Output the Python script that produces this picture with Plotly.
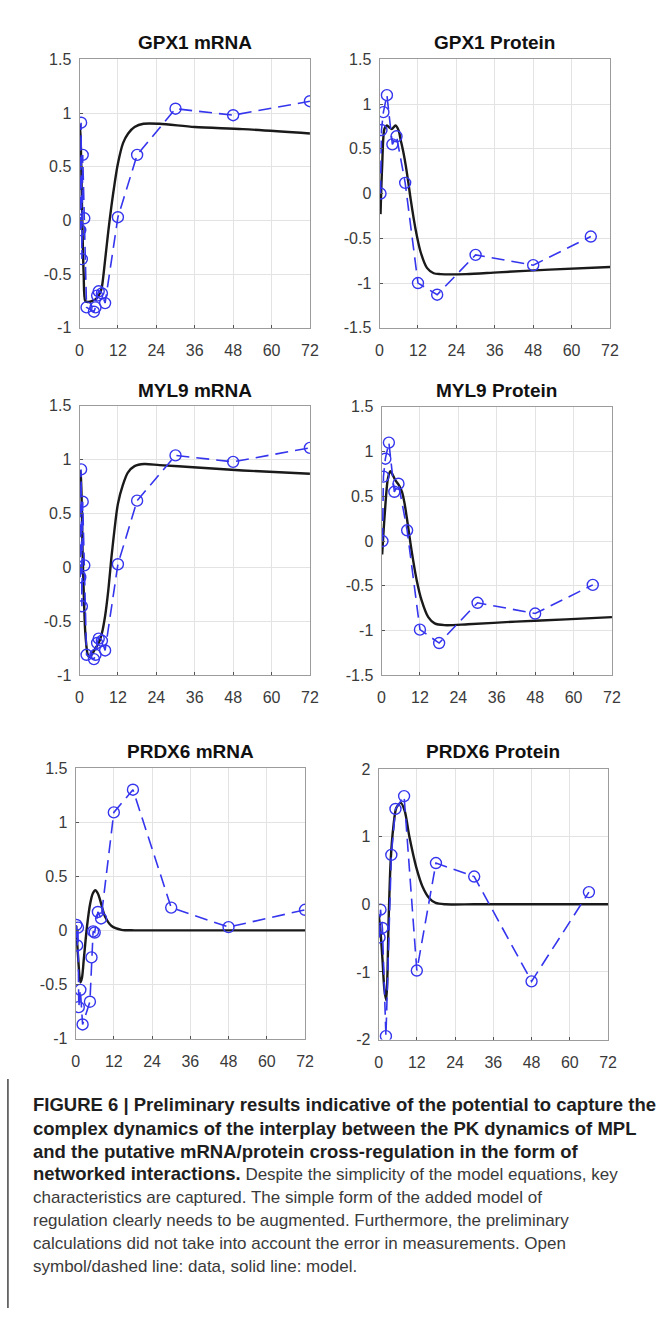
import plotly.graph_objects as go

# ---------------- data ----------------
mrna_t = [0.25, 0.5, 0.75, 1, 1.5, 2.2, 4.5, 5, 5.5, 6, 7, 8, 12, 18, 30, 48, 72]
prot_t = [0.3, 0.6, 1.2, 2.3, 4, 5.3, 8, 12, 18, 30, 48, 66]

gpx1_mrna = [-0.09, 0.91, -0.36, 0.61, 0.02, -0.81, -0.85, -0.81, -0.70, -0.66, -0.68, -0.77, 0.03, 0.61, 1.04, 0.98, 1.11]
myl9_mrna = [-0.09, 0.91, -0.36, 0.61, 0.02, -0.81, -0.85, -0.81, -0.70, -0.66, -0.68, -0.77, 0.03, 0.62, 1.04, 0.98, 1.11]
prdx6_mrna = [0.05, -0.14, 0.025, -0.71, -0.55, -0.87, -0.66, -0.25, -0.01, -0.02, 0.17, 0.11, 1.09, 1.30, 0.21, 0.03, 0.19]

gpx1_prot = [0.0, 0.71, 0.91, 1.10, 0.55, 0.64, 0.12, -1.0, -1.13, -0.685, -0.80, -0.48]
myl9_prot = [0.0, 0.72, 0.92, 1.10, 0.55, 0.64, 0.12, -0.99, -1.14, -0.69, -0.81, -0.49]
prdx6_prot = [-0.49, -0.08, -0.35, -1.95, 0.73, 1.41, 1.60, -0.98, 0.61, 0.41, -1.14, 0.18]

# model curves
gpx1_mrna_mt = [0, 0.3, 0.8, 1.3, 1.8, 2.5, 4, 5.5, 6.5, 7, 8, 9, 10, 11, 12, 13.6, 15.2, 17.2, 20, 25, 36, 51, 72]
gpx1_mrna_my = [0.9, 0.8, 0.1, -0.5, -0.75, -0.76, -0.75, -0.72, -0.67, -0.62, -0.37, -0.1, 0.14, 0.35, 0.53, 0.72, 0.81, 0.87, 0.90, 0.90, 0.87, 0.85, 0.81]

myl9_mrna_mt = [0, 0.3, 1, 1.8, 2.5, 3, 4, 5, 6, 7, 8, 9, 10, 11, 12, 13.6, 15.1, 17.2, 20.2, 25, 35.5, 51, 72]
myl9_mrna_my = [0.9, 0.88, 0.1, -0.6, -0.8, -0.83, -0.8, -0.75, -0.70, -0.61, -0.45, -0.21, 0.10, 0.37, 0.59, 0.77, 0.88, 0.94, 0.96, 0.95, 0.93, 0.90, 0.87]

prdx6_mrna_mt = [0.2, 0.8, 1.5, 2, 2.6, 3.6, 4.6, 5.4, 6.2, 7, 7.7, 9.2, 11.3, 14.4, 18.5, 30, 48, 72]
prdx6_mrna_my = [0.04, -0.25, -0.48, -0.44, -0.26, 0.04, 0.25, 0.34, 0.37, 0.34, 0.28, 0.13, 0.04, 0.005, 0, 0, 0, 0]

gpx1_prot_mt = [0.3, 0.8, 1.5, 2.2, 3, 3.8, 5, 6, 6.6, 7.5, 8.2, 9, 9.7, 11.2, 12.8, 14.8, 16.9, 19, 27, 37, 53, 72]
gpx1_prot_my = [-0.23, 0.3, 0.72, 0.76, 0.74, 0.72, 0.76, 0.70, 0.6, 0.45, 0.31, 0.12, -0.06, -0.39, -0.65, -0.83, -0.89, -0.90, -0.90, -0.88, -0.85, -0.82]

myl9_prot_mt = [0.2, 1, 2, 2.8, 4.3, 5.5, 6.4, 7.2, 7.9, 9.4, 11, 12.5, 14.6, 16.6, 19.7, 27, 42, 57.6, 72]
myl9_prot_my = [-0.15, 0.3, 0.7, 0.78, 0.68, 0.62, 0.55, 0.42, 0.26, -0.11, -0.44, -0.66, -0.85, -0.92, -0.94, -0.93, -0.90, -0.875, -0.85]

prdx6_prot_mt = [0, 0.5, 1.2, 1.8, 2.4, 2.8, 3.1, 3.8, 4.6, 5.6, 7, 8.2, 9.7, 11.8, 13.8, 15.9, 17.9, 21, 30, 48, 72]
prdx6_prot_my = [-0.15, -0.35, -0.8, -1.25, -1.42, -1.0, -0.32, 0.65, 1.13, 1.43, 1.5, 1.38, 0.99, 0.55, 0.26, 0.09, 0.02, 0, 0, 0, 0]

titles = ["GPX1 mRNA", "GPX1 Protein", "MYL9 mRNA", "MYL9 Protein", "PRDX6 mRNA", "PRDX6 Protein"]
x_ticks = [0, 12, 24, 36, 48, 60, 72]
y_ticks_a = [-1, -0.5, 0, 0.5, 1, 1.5]
y_text_a = ["-1", "-0.5", "0", "0.5", "1", "1.5"]
y_ticks_b = [-1.5, -1, -0.5, 0, 0.5, 1, 1.5]
y_text_b = ["-1.5", "-1", "-0.5", "0", "0.5", "1", "1.5"]
y_ticks_c = [-2, -1, 0, 1, 2]
y_text_c = ["-2", "-1", "0", "1", "2"]

# caption: (bold part, regular part) per line
caption_lines = [
    ("FIGURE 6 | Preliminary results indicative of the potential to capture the", ""),
    ("complex dynamics of the interplay between the PK dynamics of MPL", ""),
    ("and the putative mRNA/protein cross-regulation in the form of", ""),
    ("networked interactions.", " Despite the simplicity of the model equations, key"),
    ("", "characteristics are captured. The simple form of the added model of"),
    ("", "regulation clearly needs to be augmented. Furthermore, the preliminary"),
    ("", "calculations did not take into account the error in measurements. Open"),
    ("", "symbol/dashed line: data, solid line: model."),
]

# ---------------- layout geometry (pixels) ----------------
W, H = 670, 1317
panels = [
    # (left, right, top, bottom, yrange, yticks, ytext, title_y)
    (77, 312, 52, 324, [-1, 1.5], y_ticks_a, y_text_a, 35),
    (383, 618, 52, 324, [-1.5, 1.5], y_ticks_b, y_text_b, 35),
    (77, 312, 403, 676, [-1, 1.5], y_ticks_a, y_text_a, 388),
    (385, 620, 404, 676, [-1.5, 1.5], y_ticks_b, y_text_b, 388),
    (73, 307, 770, 1044, [-1, 1.5], y_ticks_a, y_text_a, 753),
    (382, 616, 771, 1045, [-2, 2], y_ticks_c, y_text_c, 753),
]

data_sets = [
    (mrna_t, gpx1_mrna, gpx1_mrna_mt, gpx1_mrna_my),
    (prot_t, gpx1_prot, gpx1_prot_mt, gpx1_prot_my),
    (mrna_t, myl9_mrna, myl9_mrna_mt, myl9_mrna_my),
    (prot_t, myl9_prot, myl9_prot_mt, myl9_prot_my),
    (mrna_t, prdx6_mrna, prdx6_mrna_mt, prdx6_mrna_my),
    (prot_t, prdx6_prot, prdx6_prot_mt, prdx6_prot_my),
]

BLUE = "#3535ee"
BLACK = "#1a1a1a"
AXC = "#9c9c9c"
GRID = "#e3e3e3"
TICKC = "#3a3a3a"
FONT = "Liberation Sans, Arial, sans-serif"

fig = go.Figure()
layout = dict(
    width=W, height=H,
    margin=dict(l=0, r=0, t=0, b=0),
    paper_bgcolor="white", plot_bgcolor="white",
    showlegend=False,
    font=dict(family=FONT, color=TICKC, size=16),
)
annotations = []

for i, ((l, r, t, b, yr, yt, ytx, ty), (dt, dv, mt, mv)) in enumerate(zip(panels, data_sets)):
    n = "" if i == 0 else str(i + 1)
    xa, ya = "x" + n, "y" + n
    fig.add_trace(go.Scatter(
        x=mt, y=mv, mode="lines", xaxis=xa, yaxis=ya,
        line=dict(color=BLACK, width=2.4, shape="spline", smoothing=0.8),
        hoverinfo="skip"))
    fig.add_trace(go.Scatter(
        x=dt, y=dv, mode="lines+markers", xaxis=xa, yaxis=ya,
        line=dict(color=BLUE, width=1.6, dash="13px,7px"),
        marker=dict(symbol="circle-open", size=11, color=BLUE, line=dict(width=1.4, color=BLUE))))
    axis_common = dict(
        showline=True, mirror=True, linecolor=AXC, linewidth=1,
        showgrid=True, gridcolor=GRID, gridwidth=1, zeroline=False,
        ticks="inside", ticklen=3, tickcolor="#555555",
        tickfont=dict(family=FONT, size=16, color=TICKC),
    )
    layout["xaxis" + n] = dict(
        domain=[l / W, r / W], anchor=ya, range=[0, 72],
        tickvals=x_ticks, ticktext=[str(v) for v in x_ticks],
        ticklabelstandoff=8, **axis_common)
    layout["yaxis" + n] = dict(
        domain=[1 - b / H, 1 - t / H], anchor=xa, range=yr,
        tickvals=yt, ticktext=ytx, ticklabelstandoff=4, **axis_common)
    annotations.append(dict(
        text="<b>" + titles[i] + "</b>", xref="paper", yref="paper",
        x=(l + r) / 2 / W, y=1 - ty / H, xanchor="center", yanchor="middle",
        showarrow=False, font=dict(family=FONT, size=19, color="#111111")))

cap_y = [1111, 1135, 1158, 1181, 1205, 1228, 1252, 1275]
for (bold, reg), yc in zip(caption_lines, cap_y):
    txt = ""
    if bold:
        txt += '<span style="font-size:18.5px;color:#1e1e1e"><b>' + bold + "</b></span>"
    if reg:
        txt += '<span style="font-size:17px;color:#3a3a3a">' + reg + "</span>"
    annotations.append(dict(
        text=txt, xref="paper", yref="paper", x=28 / W, y=1 - yc / H,
        xanchor="left", yanchor="middle", showarrow=False, align="left",
        font=dict(family=FONT, size=17, color="#3a3a3a")))

layout["annotations"] = annotations
layout["shapes"] = [dict(type="line", xref="paper", yref="paper",
                         x0=4 / W, x1=4 / W, y0=0, y1=1 - 1085 / H,
                         line=dict(color="#444444", width=1.5))]
fig.update_layout(**layout)
fig.write_html("out.html", config={"displayModeBar": False},
               post_script="document.body.style.margin='0';document.body.style.padding='0';")
